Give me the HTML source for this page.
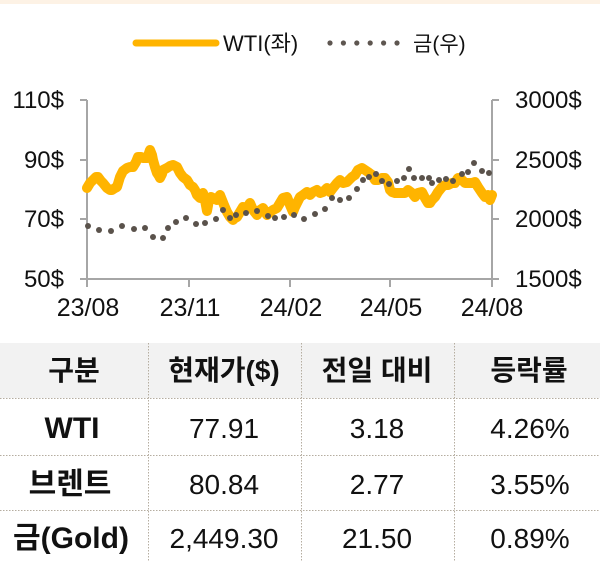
<!DOCTYPE html>
<html><head><meta charset="utf-8"><style>
html,body{margin:0;padding:0;background:#fff;}
svg{display:block;}
text{font-family:"Liberation Sans","Noto Sans CJK KR",sans-serif;fill:#111;}
</style></head><body>
<svg width="600" height="561" viewBox="0 0 600 561" xmlns="http://www.w3.org/2000/svg">
<rect x="0" y="0" width="600" height="4" fill="#fdf2e5"/>
<!-- legend -->
<line x1="136" y1="43" x2="216" y2="43" stroke="#ffb400" stroke-width="7" stroke-linecap="round"/>
<text x="223" y="51" font-size="22">WTI(좌)</text>
<g fill="#5e5650">
<circle cx="330" cy="43" r="2.6"/><circle cx="343.4" cy="43" r="2.6"/><circle cx="356.8" cy="43" r="2.6"/><circle cx="370.2" cy="43" r="2.6"/><circle cx="383.6" cy="43" r="2.6"/><circle cx="397" cy="43" r="2.6"/>
</g>
<text x="413" y="51" font-size="21">금(우)</text>
<!-- axes -->
<g stroke="#a6a6a6" stroke-width="2" fill="none">
<line x1="87" y1="100" x2="87" y2="280"/>
<line x1="492" y1="100" x2="492" y2="280"/>
<line x1="86" y1="279" x2="493" y2="279"/>
<line x1="80" y1="100" x2="87" y2="100"/><line x1="80" y1="160" x2="87" y2="160"/><line x1="80" y1="219" x2="87" y2="219"/><line x1="80" y1="279" x2="87" y2="279"/>
<line x1="492" y1="100" x2="499" y2="100"/><line x1="492" y1="160" x2="499" y2="160"/><line x1="492" y1="219" x2="499" y2="219"/><line x1="492" y1="279" x2="499" y2="279"/>
<line x1="87" y1="279" x2="87" y2="287"/><line x1="189" y1="279" x2="189" y2="287"/><line x1="290" y1="279" x2="290" y2="287"/><line x1="390" y1="279" x2="390" y2="287"/><line x1="492" y1="279" x2="492" y2="287"/>
</g>
<g font-size="24" text-anchor="end">
<text x="64" y="108">110$</text><text x="64" y="168">90$</text><text x="64" y="227">70$</text><text x="64" y="287">50$</text>
</g>
<g font-size="24" text-anchor="start">
<text x="515" y="108">3000$</text><text x="515" y="168">2500$</text><text x="515" y="227">2000$</text><text x="515" y="287">1500$</text>
</g>
<g font-size="25" text-anchor="middle">
<text x="88" y="316">23/08</text><text x="190" y="316">23/11</text><text x="291" y="316">24/02</text><text x="391" y="316">24/05</text><text x="492" y="316">24/08</text>
</g>
<!-- WTI line -->
<polyline fill="none" stroke="#ffb400" stroke-width="10" stroke-linejoin="round" stroke-linecap="round" points="87,188 90,183 93,180 96,177 98,177 101,181 103,183 107,188 110,190 112,190 115,188 117,187 120,177 123,171 127,168 130,167 133,167 136,162 138,157 141,157 143,158 147,158 149,153 150,150 152,155 153,160 155,167 157,173 159,176 160,178 162,174 163,170 167,168 170,166 173,165 177,167 180,173 183,177 187,180 190,185 193,187 195,190 197,195 200,198 203,193 205,200 207,211 209,200 211,197 213,198 217,200 220,195 222,200 224,205 227,212 230,217 233,220 235,218 237,217 240,212 243,207 247,208 250,203 253,210 257,215 260,210 263,208 267,215 270,212 273,210 277,208 280,203 283,198 287,197 290,205 293,212 295,207 297,203 300,197 303,195 307,192 310,195 313,192 317,190 320,193 323,192 327,188 330,192 333,188 337,183 340,180 343,183 347,182 350,179 352,177 355,175 358,170 362,168 365,170 368,172 372,175 375,180 378,180 382,178 385,178 388,182 390,190 392,192 395,193 398,193 402,193 405,193 408,190 412,193 415,197 418,193 422,192 425,198 428,203 430,203 432,200 435,197 438,192 442,187 445,185 448,185 452,183 455,183 458,178 462,180 465,183 468,183 472,183 475,182 478,187 482,193 485,197 488,195 490,200 492,195"/>
<!-- gold dots -->
<g fill="#5a524b">
<circle cx="88" cy="226" r="3"/><circle cx="99" cy="230" r="3"/><circle cx="111" cy="231" r="3"/><circle cx="122" cy="226" r="3"/><circle cx="134" cy="229" r="3"/><circle cx="145" cy="228" r="3"/><circle cx="153" cy="237" r="3"/><circle cx="163" cy="238" r="3"/><circle cx="168" cy="228" r="3"/><circle cx="176" cy="222" r="3"/><circle cx="186" cy="218" r="3"/><circle cx="196" cy="224" r="3"/><circle cx="205" cy="223" r="3"/><circle cx="216" cy="219" r="3"/><circle cx="223" cy="210" r="3"/><circle cx="230" cy="218" r="3"/><circle cx="236" cy="215" r="3"/><circle cx="246" cy="213" r="3"/><circle cx="257" cy="211" r="3"/><circle cx="268" cy="216" r="3"/><circle cx="275" cy="218" r="3"/><circle cx="284" cy="217" r="3"/><circle cx="294" cy="215" r="3"/><circle cx="304" cy="219" r="3"/><circle cx="315" cy="214" r="3"/><circle cx="325" cy="209" r="3"/><circle cx="332" cy="198" r="3"/><circle cx="340" cy="200" r="3"/><circle cx="349" cy="198" r="3"/><circle cx="357" cy="189" r="3"/><circle cx="363" cy="180" r="3"/><circle cx="369" cy="177" r="3"/><circle cx="376" cy="174" r="3"/><circle cx="382" cy="181" r="3"/><circle cx="389" cy="184" r="3"/><circle cx="397" cy="181" r="3"/><circle cx="404" cy="178" r="3"/><circle cx="409" cy="169" r="3"/><circle cx="414" cy="178" r="3"/><circle cx="422" cy="178" r="3"/><circle cx="429" cy="178" r="3"/><circle cx="432" cy="183" r="3"/><circle cx="439" cy="180" r="3"/><circle cx="446" cy="179" r="3"/><circle cx="453" cy="181" r="3"/><circle cx="462" cy="174" r="3"/><circle cx="468" cy="172" r="3"/><circle cx="474" cy="163" r="3"/><circle cx="482" cy="171" r="3"/><circle cx="489" cy="173" r="3"/>
</g>
<!-- table -->
<rect x="0" y="343" width="600" height="55" fill="#f2f2f2"/>
<g stroke="#b5ada0" stroke-width="1" stroke-dasharray="1.5,1.5" fill="none">
<line x1="0" y1="398.5" x2="600" y2="398.5"/>
<line x1="0" y1="455.5" x2="600" y2="455.5"/>
<line x1="0" y1="510.5" x2="600" y2="510.5"/>
<line x1="148.5" y1="343" x2="148.5" y2="561"/>
<line x1="301.5" y1="343" x2="301.5" y2="561"/>
<line x1="454.5" y1="343" x2="454.5" y2="561"/>
</g>
<g font-size="28" font-weight="bold" text-anchor="middle">
<text x="74" y="380">구분</text>
<text x="224" y="380">현재가($)</text>
<text x="377" y="380">전일 대비</text>
<text x="529" y="380">등락률</text>
</g>
<g font-size="30" font-weight="bold" text-anchor="middle">
<text x="72" y="438">WTI</text>
<text x="70" y="494">브렌트</text>
<text x="71" y="548">금(Gold)</text>
</g>
<g font-size="28" text-anchor="middle">
<text x="224" y="438">77.91</text><text x="377" y="438">3.18</text><text x="530" y="438">4.26%</text>
<text x="224" y="494">80.84</text><text x="377" y="494">2.77</text><text x="530" y="494">3.55%</text>
<text x="224" y="548">2,449.30</text><text x="377" y="548">21.50</text><text x="530" y="548">0.89%</text>
</g>
</svg>
</body></html>
